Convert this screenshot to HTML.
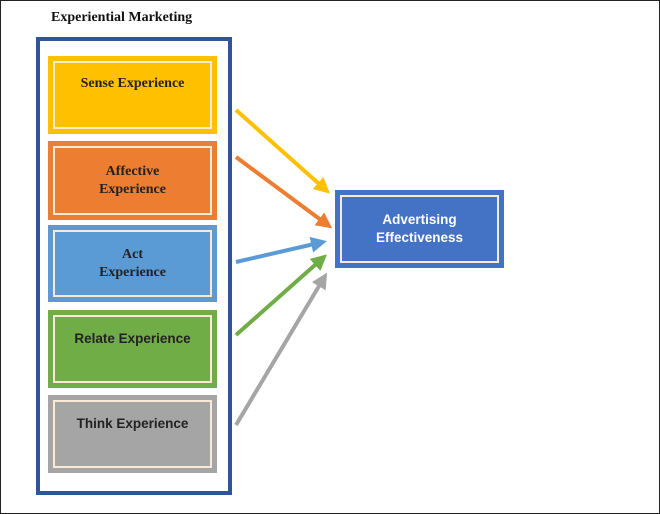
<!DOCTYPE html>
<html><head><style>
body{margin:0;width:660px;height:514px;overflow:hidden;background:#fff;font-family:"Liberation Serif",serif}
.frame{position:absolute;left:0;top:0;width:658px;height:512px;border:1px solid #222}
.t{position:absolute;left:51px;top:10px;font-weight:bold;font-size:14px;color:#111}
.outer{position:absolute;left:36px;top:37px;width:188px;height:450px;border:4px solid #2f5597}
.b{position:absolute;left:48px;width:169px;display:flex;align-items:center;justify-content:center;text-align:center;font-weight:bold;font-size:14px;color:#222;line-height:18px}
.b::after{content:"";position:absolute;left:5px;top:5px;right:5px;bottom:5px;border:2px solid #fbe9d4}
.s{font-family:"Liberation Sans",sans-serif;font-size:13.5px}
</style></head><body>
<div class="frame"></div>
<div class="t">Experiential Marketing</div>
<div class="outer"></div>
<div class="b" style="top:56px;height:78px;background:#ffc000;align-items:flex-start;padding-top:0"><span style="margin-top:19px">Sense Experience</span></div>
<div class="b" style="top:141px;height:79px;background:#ed7d31">Affective<br>Experience</div>
<div class="b" style="top:225px;height:77px;background:#5b9bd5">Act<br>Experience</div>
<div class="b s" style="top:310px;height:78px;background:#70ad47;align-items:flex-start"><span style="margin-top:20px">Relate Experience</span></div>
<div class="b s" style="top:395px;height:78px;background:#a5a5a5;align-items:flex-start"><span style="margin-top:20px">Think Experience</span></div>
<div class="b s" style="left:335px;top:190px;width:169px;height:78px;background:#4472c4;color:#fff;font-size:13.5px">Advertising<br>Effectiveness</div>
<svg width="660" height="514" style="position:absolute;left:0;top:0">
<defs>
<marker id="y" markerWidth="4" markerHeight="4" refX="3" refY="2" orient="auto"><path d="M0,0L4,2L0,4z" fill="#ffc000"/></marker>
<marker id="o" markerWidth="4" markerHeight="4" refX="3" refY="2" orient="auto"><path d="M0,0L4,2L0,4z" fill="#ed7d31"/></marker>
<marker id="bl" markerWidth="4" markerHeight="4" refX="3" refY="2" orient="auto"><path d="M0,0L4,2L0,4z" fill="#5b9bd5"/></marker>
<marker id="g" markerWidth="4" markerHeight="4" refX="3" refY="2" orient="auto"><path d="M0,0L4,2L0,4z" fill="#70ad47"/></marker>
<marker id="gr" markerWidth="4" markerHeight="4" refX="3" refY="2" orient="auto"><path d="M0,0L4,2L0,4z" fill="#a5a5a5"/></marker>
</defs>
<g stroke-width="4">
<line x1="236" y1="110" x2="327" y2="191" stroke="#ffc000" marker-end="url(#y)"/>
<line x1="236" y1="157" x2="329" y2="226" stroke="#ed7d31" marker-end="url(#o)"/>
<line x1="236" y1="262" x2="323" y2="242" stroke="#5b9bd5" marker-end="url(#bl)"/>
<line x1="236" y1="335" x2="324" y2="257" stroke="#70ad47" marker-end="url(#g)"/>
<line x1="236" y1="425" x2="325" y2="276" stroke="#a5a5a5" marker-end="url(#gr)"/>
</g>
</svg>
</body></html>
